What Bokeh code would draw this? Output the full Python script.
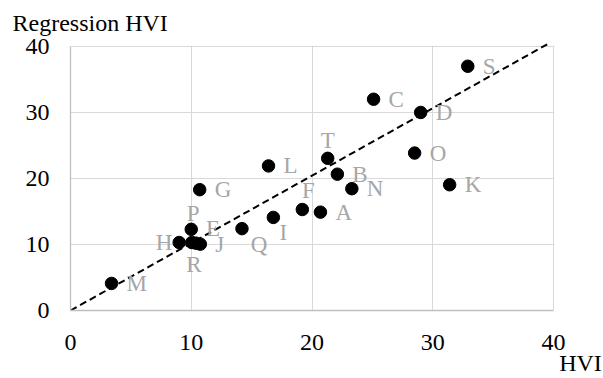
from bokeh.plotting import figure
from bokeh.models import Range1d, FixedTicker, ColumnDataSource, Title, BoxAnnotation
from bokeh.core.properties import value
from bokeh.embed import file_html
from bokeh.resources import INLINE

# ---- data ----
names = ["A", "B", "C", "D", "E", "F", "G", "H", "I", "J",
         "K", "L", "M", "N", "O", "P", "Q", "R", "S", "T"]
hvi = [20.7, 22.1, 25.1, 29.0, 10.4, 19.2, 10.7, 9.0, 16.8, 10.75,
       31.4, 16.4, 3.4, 23.3, 28.5, 10.0, 14.2, 10.05, 32.9, 21.3]
regression_hvi = [14.9, 20.65, 32.0, 30.0, 10.2, 15.3, 18.3, 10.3, 14.1, 10.05,
                  19.05, 21.9, 4.1, 18.45, 23.85, 12.3, 12.4, 10.3, 37.0, 23.05]
trend_x = [0, 39.65]
trend_y = [0, 40.5]
ticks = [0, 10, 20, 30, 40]
axis_min, axis_max = 0, 40

# ---- label placement (style) ----
place = {"T": ("center", 0, -18), "F": ("center", 6, -19), "P": ("center", 2, -16),
         "E": ("center", 17, -15), "I": ("center", 10, 15), "Q": ("center", 17, 16),
         "H": ("center", -15, 0), "R": ("center", 2, 22)}
aligns, dxs, dys = [], [], []
for n in names:
    a, dx, dy = place.get(n, ("left", 15, 0))
    aligns.append(a); dxs.append(dx); dys.append(dy)

FONT = "Liberation Serif"
W, H = 603, 378
PLOT_W, PLOT_H = 483.0, 267.3        # pixel size of the 0..40 square
LEFT, BOTTOM, RIGHT = 70, 66, 23
TOP_EXTRA = 4.0                      # room above y=40 for the end of the dashed line
TOP = 45 - TOP_EXTRA
frame_w = W - LEFT - RIGHT
x_end = axis_max * frame_w / PLOT_W
y_end = axis_max + TOP_EXTRA * axis_max / PLOT_H

p = figure(width=W, height=H, output_backend="svg", toolbar_location=None,
           x_range=Range1d(axis_min, x_end), y_range=Range1d(axis_min, y_end),
           min_border_left=LEFT, min_border_right=RIGHT, min_border_top=int(TOP),
           min_border_bottom=BOTTOM)
p.outline_line_color = None
p.background_fill_color = "white"
p.border_fill_color = "white"

for ax in (p.xaxis[0], p.yaxis[0]):
    ax.ticker = FixedTicker(ticks=ticks)
    ax.bounds = (axis_min, axis_max)
    ax.major_tick_out = 0
    ax.major_tick_in = 0
    ax.minor_tick_out = 0
    ax.minor_tick_in = 0
    ax.axis_line_color = "#bfbfbf"
    ax.axis_line_width = 1.3
    ax.major_label_text_font = FONT
    ax.major_label_text_font_size = "24px"
    ax.major_label_text_color = "#000000"
p.yaxis[0].major_label_standoff = 21

xa = p.xaxis[0]
xa.axis_label = "HVI"
xa.axis_label_align = "end"
xa.axis_label_text_font = FONT
xa.axis_label_text_font_size = "24px"
xa.axis_label_text_font_style = "normal"
xa.axis_label_text_color = "#000000"
try:
    xa.axis_label_standoff_mode = "axis"
    xa.axis_label_standoff = 39
    xa.major_label_standoff = 24
except Exception:
    xa.axis_label_standoff = -10
    xa.major_label_standoff = 22

p.xgrid.ticker = FixedTicker(ticks=ticks)
p.ygrid.ticker = FixedTicker(ticks=ticks)
p.grid.grid_line_color = "#d9d9d9"
p.grid.grid_line_width = 1
# keep the grid inside the 0..40 square
p.add_layout(BoxAnnotation(left=axis_max + 0.06, fill_color="white", fill_alpha=1,
                           line_color=None, level="underlay"))
p.add_layout(BoxAnnotation(bottom=axis_max + 0.12, fill_color="white", fill_alpha=1,
                           line_color=None, level="underlay"))

p.add_layout(Title(text="Regression HVI", align="left", offset=-58, standoff=14,
                   text_font=FONT, text_font_size="24px", text_font_style="normal",
                   text_color="#000000"), "above")

p.line(trend_x, trend_y, line_color="black", line_width=2, line_dash="7 4")

src = ColumnDataSource(dict(x=hvi, y=regression_hvi, name=names, align=aligns, dx=dxs, dy=dys))
p.scatter("x", "y", source=src, size=12.5, color="black")
p.text("x", "y", text="name", source=src, text_align="align", text_baseline="middle",
       x_offset="dx", y_offset="dy", text_font=value(FONT), text_font_size="23px",
       text_color="#a6a6a6")

open("out.html", "w").write(file_html(p, INLINE))
